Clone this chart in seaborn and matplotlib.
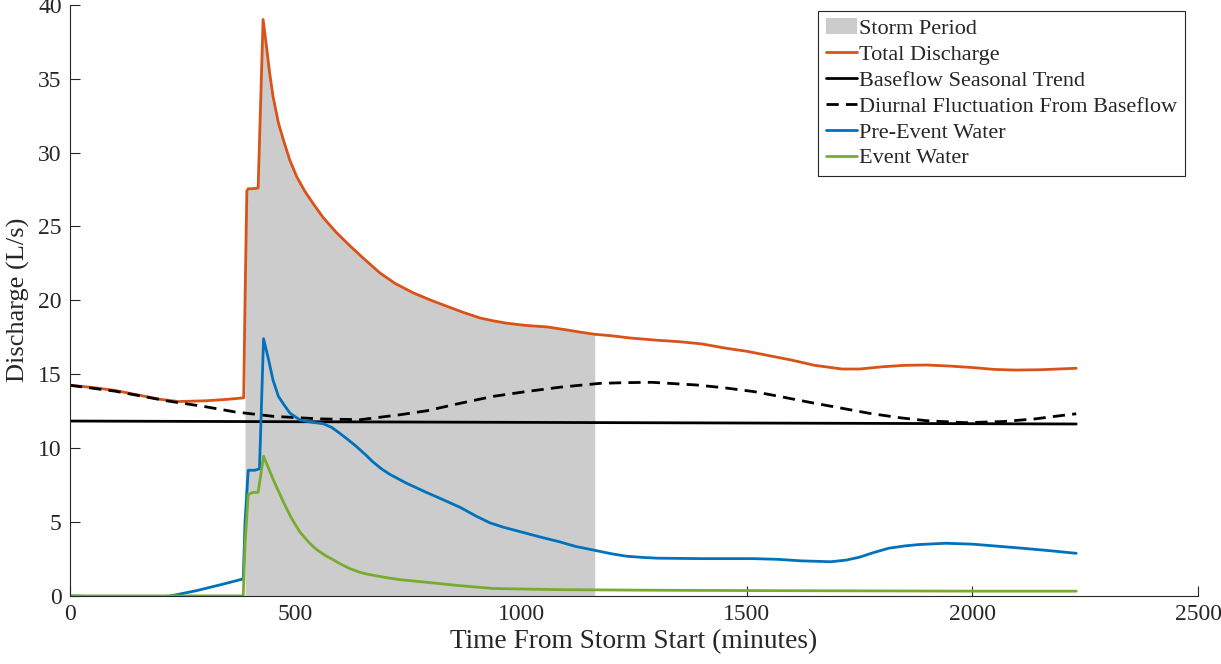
import numpy as np
import pandas as pd
import matplotlib
matplotlib.use("Agg")
import matplotlib.pyplot as plt
import seaborn as sns

# ---------------- data ----------------
storm_start = 388
storm_end = 1163

total_x = [0, 50, 100, 150, 200, 240, 300, 350, 385, 388, 392, 395, 405, 417, 428,
           435, 442, 450, 462, 473, 487, 502, 520, 540, 561, 590, 620, 650, 687, 720,
           761, 800, 835, 870, 909, 940, 968, 1010, 1057, 1100, 1130, 1163, 1200, 1241,
           1300, 1350, 1400, 1455, 1500, 1550, 1600, 1650, 1711, 1750, 1800, 1850,
           1899, 1950, 2000, 2050, 2095, 2150, 2230]
total_y = [14.25, 14.1, 13.9, 13.6, 13.3, 13.15, 13.2, 13.3, 13.4, 20.0, 27.4, 27.55,
           27.55, 27.6, 39.0, 37.3, 35.5, 33.8, 32.0, 30.85, 29.5, 28.4, 27.4, 26.5,
           25.6, 24.6, 23.7, 22.85, 21.85, 21.15, 20.5, 20.0, 19.6, 19.2, 18.8, 18.6,
           18.45, 18.3, 18.2, 18.0, 17.85, 17.7, 17.6, 17.45, 17.3, 17.2, 17.05, 16.75,
           16.55, 16.25, 15.95, 15.6, 15.35, 15.35, 15.5, 15.6, 15.62, 15.55, 15.45,
           15.32, 15.28, 15.3, 15.4]

base_x = [0, 1000, 2230]
base_y = [11.83, 11.74, 11.63]

diurnal_x = [0, 100, 214, 300, 365, 450, 550, 643, 730, 790, 860, 938, 1010, 1086,
             1175, 1234, 1290, 1388, 1450, 1516, 1580, 1644, 1710, 1772, 1840, 1899,
             1985, 2070, 2140, 2207, 2230]
diurnal_y = [14.25, 13.85, 13.2, 12.8, 12.45, 12.15, 11.98, 11.92, 12.25, 12.52,
             13.0, 13.5, 13.82, 14.12, 14.38, 14.43, 14.45, 14.27, 14.08, 13.82, 13.45,
             13.07, 12.7, 12.35, 12.05, 11.85, 11.72, 11.8, 11.98, 12.24, 12.32]

pre_x = [0, 80, 155, 220, 280, 340, 384, 388, 395, 410, 420, 429, 440, 450, 462,
         475, 488, 510, 535, 561, 580, 598, 615, 635, 655, 672, 690, 709, 746, 790,
         820, 864, 900, 930, 960, 997, 1040, 1086, 1120, 1160, 1200, 1234, 1270, 1302,
         1400, 1515, 1570, 1620, 1686, 1720, 1750, 1780, 1814, 1850, 1880, 1941, 2000,
         2060, 2112, 2170, 2230]
pre_y = [0.0, -0.08, -0.12, -0.02, 0.35, 0.8, 1.15, 5.0, 8.5, 8.5, 8.6, 17.4, 16.0,
         14.6, 13.5, 12.9, 12.35, 11.9, 11.75, 11.65, 11.4, 11.0, 10.6, 10.1, 9.55,
         9.05, 8.6, 8.22, 7.62, 7.0, 6.6, 6.0, 5.4, 4.95, 4.65, 4.35, 4.0, 3.65, 3.35,
         3.1, 2.85, 2.68, 2.6, 2.55, 2.52, 2.52, 2.47, 2.37, 2.31, 2.42, 2.62, 2.92,
         3.22, 3.38, 3.47, 3.56, 3.5, 3.35, 3.22, 3.06, 2.88]

event_x = [0, 384, 388, 395, 405, 417, 429, 450, 473, 490, 510, 530, 546, 565, 583,
           600, 620, 640, 657, 700, 731, 790, 860, 938, 1086, 1300, 1600, 2000, 2230]
event_y = [0.0, 0.0, 3.5, 6.85, 7.0, 7.0, 9.45, 7.9, 6.35, 5.3, 4.3, 3.6, 3.15, 2.75,
           2.45, 2.15, 1.85, 1.62, 1.48, 1.24, 1.1, 0.92, 0.7, 0.5, 0.42, 0.38, 0.35,
           0.32, 0.32]

labels = ["Storm Period", "Total Discharge", "Baseflow Seasonal Trend",
          "Diurnal Fluctuation From Baseflow", "Pre-Event Water", "Event Water"]
x_ticks = [0, 500, 1000, 1500, 2000, 2500]
y_ticks = [0, 5, 10, 15, 20, 25, 30, 35, 40]

# ---------------- styling ----------------
sns.set_style("ticks")
plt.rcParams["font.family"] = ["Liberation Serif", "DejaVu Serif"]
axis_col = "#262626"

c_orange = "#D95319"
c_blue = "#0072BD"
c_green = "#77AC30"
c_storm = "#CCCCCC"

fig = plt.figure(figsize=(12.21, 6.64), dpi=100)
ax = fig.add_axes([0.0573, 0.1026, 0.9239, 0.8903])

# storm period fill under total discharge
tdf = pd.DataFrame({"x": total_x, "y": total_y})
storm = tdf[(tdf.x >= storm_start) & (tdf.x <= storm_end)]
ax.fill_between(storm.x, 0, storm.y, color=c_storm, linewidth=0, label=labels[0])

lw = 2.0
sns.lineplot(x=total_x, y=total_y, ax=ax, color=c_orange, lw=lw, label=labels[1],
             sort=False, estimator=None)
sns.lineplot(x=base_x, y=base_y, ax=ax, color="black", lw=lw, label=labels[2],
             sort=False, estimator=None)
sns.lineplot(x=diurnal_x, y=diurnal_y, ax=ax, color="black", lw=lw, label=labels[3],
             sort=False, estimator=None, linestyle=(0, (4.4, 2.6)))
sns.lineplot(x=pre_x, y=pre_y, ax=ax, color=c_blue, lw=lw, label=labels[4],
             sort=False, estimator=None)
sns.lineplot(x=event_x, y=event_y, ax=ax, color=c_green, lw=lw, label=labels[5],
             sort=False, estimator=None)

ax.set_xlim(0, 2500)
ax.set_ylim(0, 40)
ax.set_xticks(x_ticks)
ax.set_yticks(y_ticks)
ax.tick_params(direction="in", length=7, width=0.8, colors=axis_col,
               labelsize=17, labelcolor=axis_col, pad=6)
for s in ["top", "right"]:
    ax.spines[s].set_visible(False)
for s in ["left", "bottom"]:
    ax.spines[s].set_color(axis_col)
    ax.spines[s].set_linewidth(0.8)

ax.set_xlabel("Time From Storm Start (minutes)", fontsize=19.7, color=axis_col, labelpad=3)
ax.set_ylabel("Discharge (L/s)", fontsize=19, color=axis_col, labelpad=6)

leg = ax.legend(loc="upper right", bbox_to_anchor=(0.9885, 0.99), borderaxespad=0,
                fontsize=16, frameon=True, fancybox=False, framealpha=1,
                edgecolor="#262626", handlelength=1.4, handletextpad=0.1,
                labelspacing=0.24, borderpad=0.35)
leg.get_frame().set_linewidth(0.8)

fig.savefig("out.png", dpi=100)
